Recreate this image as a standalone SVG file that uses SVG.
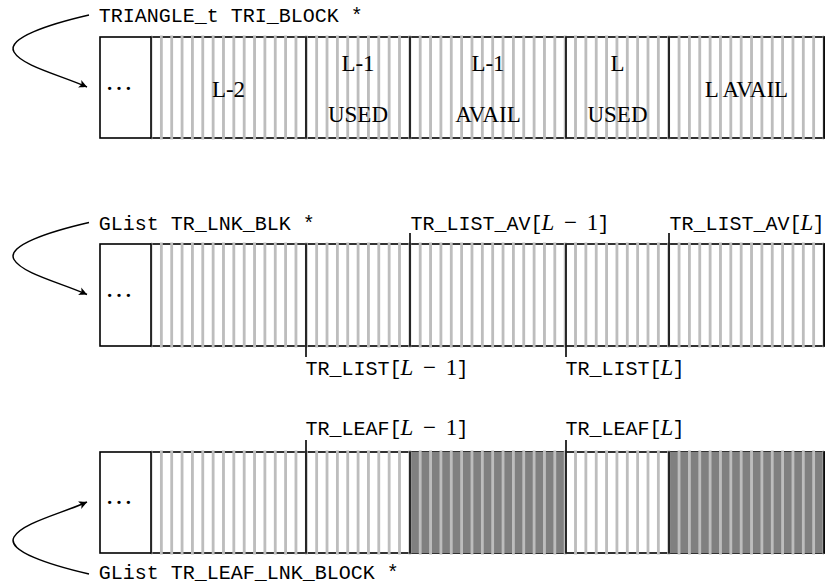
<svg xmlns="http://www.w3.org/2000/svg" width="827" height="587" viewBox="0 0 827 587">
<style>
.frame{fill:#fff;stroke:#000;stroke-width:1.6}
.dv{stroke:#000;stroke-width:1.6;fill:none}
.dk{fill:#808080}
.tt{font-family:"Liberation Mono","DejaVu Sans Mono",monospace;font-size:20px;fill:#000}
.rm{font-family:"Liberation Serif","DejaVu Serif",serif;font-size:23px;fill:#000}
.mi{font-family:"Liberation Serif","DejaVu Serif",serif;font-style:italic;font-size:23px;fill:#000}
.dots{font-family:"Liberation Serif","DejaVu Serif",serif;font-size:28px;fill:#000}
.cn{fill:none;stroke:#000;stroke-width:1.5;marker-end:url(#ah)}
</style>
<defs>
<pattern id="stripes" patternUnits="userSpaceOnUse" x="145.823" y="0" width="10.354" height="20">
<rect x="4.177" y="0" width="2" height="20" fill="#bdbdbd" shape-rendering="crispEdges"/>
</pattern>
<marker id="ah" viewBox="-9 -5 10 10" refX="0" refY="0" markerWidth="10" markerHeight="10" markerUnits="userSpaceOnUse" orient="auto">
<path d="M0,0 C-2,-1 -5,-2.5 -8,-4 L-6,0 L-8,4 C-5,2.5 -2,1 0,0Z" fill="#000"/>
</marker>
</defs>
<rect width="827" height="587" fill="#fff"/>

<g id="tri-block">
<rect class="frame" x="100" y="37" width="724" height="101"/>
<rect x="151" y="35.5" width="673" height="104" fill="url(#stripes)"/>
<path class="dv" d="M151,36.2V138.8M306,36.2V138.8M410,36.2V138.8M566,36.2V138.8M669,36.2V138.8M824,36.2V138.8"/>
<text class="tt" x="98.8" y="22">TRIANGLE_t TRI_BLOCK *</text>
<text class="dots" x="119" y="89.5" text-anchor="middle">…</text>
<text class="rm" x="228.5" y="96.5" text-anchor="middle">L-2</text>
<text class="rm" x="358" y="70.5" text-anchor="middle">L-1</text>
<text class="rm" x="358" y="121.5" text-anchor="middle">USED</text>
<text class="rm" x="488" y="70.5" text-anchor="middle">L-1</text>
<text class="rm" x="488" y="121.5" text-anchor="middle">AVAIL</text>
<text class="rm" x="617.5" y="70.5" text-anchor="middle">L</text>
<text class="rm" x="617.5" y="121.5" text-anchor="middle">USED</text>
<text class="rm" x="746.5" y="96.5" text-anchor="middle">L AVAIL</text>
</g>

<g id="lnk-blk">
<rect class="frame" x="100" y="244" width="724" height="102"/>
<rect x="151" y="242.5" width="673" height="105" fill="url(#stripes)"/>
<path class="dv" d="M151,243.2V346.8M306,243.2V357M410,233V346.8M566,243.2V357M669,233V346.8M824,243.2V346.8"/>
<text class="tt" x="98.8" y="230">GList TR_LNK_BLK *</text>
<text class="dots" x="119" y="297" text-anchor="middle">…</text>
<text y="230"><tspan class="tt" x="410.5">TR_LIST_AV[</tspan><tspan class="mi" x="541.5">L</tspan><tspan class="rm" x="570.5" text-anchor="middle">−</tspan><tspan class="rm" x="592.5" text-anchor="middle">1</tspan><tspan class="tt" x="597.5">]</tspan></text>
<text y="230"><tspan class="tt" x="669.5">TR_LIST_AV[</tspan><tspan class="mi" x="800.5">L</tspan><tspan class="tt" x="812.5">]</tspan></text>
<text y="375"><tspan class="tt" x="305.5">TR_LIST[</tspan><tspan class="mi" x="400.5">L</tspan><tspan class="rm" x="429.5" text-anchor="middle">−</tspan><tspan class="rm" x="451.5" text-anchor="middle">1</tspan><tspan class="tt" x="456.5">]</tspan></text>
<text y="375"><tspan class="tt" x="565.5">TR_LIST[</tspan><tspan class="mi" x="660.5">L</tspan><tspan class="tt" x="672.5">]</tspan></text>
</g>

<g id="leaf-lnk-block">
<rect class="frame" x="100" y="452" width="724" height="101"/>
<rect class="dk" x="410" y="452" width="156" height="101"/>
<rect class="dk" x="669" y="452" width="155" height="101"/>
<rect x="151" y="450.5" width="673" height="104" fill="url(#stripes)"/>
<path class="dv" d="M151,451.2V553.8M306,440V553.8M410,451.2V553.8M566,440V553.8M669,451.2V553.8M824,451.2V553.8"/>
<text class="dots" x="119" y="503.5" text-anchor="middle">…</text>
<text y="435"><tspan class="tt" x="305.5">TR_LEAF[</tspan><tspan class="mi" x="400.5">L</tspan><tspan class="rm" x="429.5" text-anchor="middle">−</tspan><tspan class="rm" x="451.5" text-anchor="middle">1</tspan><tspan class="tt" x="456.5">]</tspan></text>
<text y="435"><tspan class="tt" x="565.5">TR_LEAF[</tspan><tspan class="mi" x="660.5">L</tspan><tspan class="tt" x="672.5">]</tspan></text>
<text class="tt" x="98.8" y="579">GList TR_LEAF_LNK_BLOCK *</text>
</g>

<g id="connectors">
<path class="cn" d="M89,15 C50,24 6,38 14,52 C22,66 60,75 87,87"/>
<path class="cn" d="M89,222.5 C50,231.5 6,245.5 14,259.5 C22,273.5 60,282.5 87,294.5"/>
<path class="cn" d="M89,574 C50,565 6,551 14,537 C22,523 60,514 87,502"/>
</g>
</svg>
